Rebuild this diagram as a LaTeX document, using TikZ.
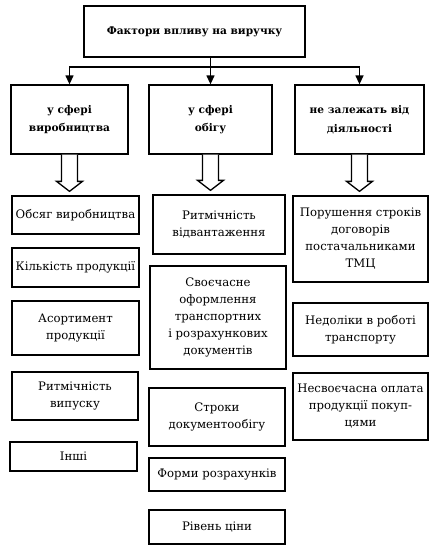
\documentclass[tikz,border=0pt]{standalone}
\usepackage{fontspec}
\setmainfont{DejaVu Serif}
\usetikzlibrary{arrows.meta,calc}
\tikzset{
  box/.style={draw, line width=1.3pt, rectangle, align=center, inner sep=1pt,
    font=\fontsize{11.7}{17}\selectfont},
  hbox/.style={box, font=\bfseries\fontsize{10.6}{18.5}\selectfont},
  conn/.style={line width=1.3pt},
  arr/.style={line width=1.3pt, -{Triangle[length=9pt,width=8pt]}},
  hollow/.style={line width=1.3pt, fill=white, line join=miter}
}
\newcommand{\hollowarrow}[2]{%
  \draw[hollow] let \p1=(#1.south), \p2=(#2.north) in
    (\x1-8pt,\y1) -- (\x1-8pt,\y2+14pt) -- (\x1-13pt,\y2+14pt) -- (\x1,\y2+4pt)
    -- (\x1+13pt,\y2+14pt) -- (\x1+8pt,\y2+14pt) -- (\x1+8pt,\y1);}
\begin{document}
\begin{tikzpicture}[x=1pt,y=-1pt]
\useasboundingbox (0,0) rectangle (435,549);
% top
\node[hbox, minimum width=221pt, minimum height=51pt] (top) at (194.5,31.5) {Фактори впливу на виручку};
% level 2
\node[hbox, minimum width=117pt, minimum height=69pt] (b1) at (69.5,119.5) {у сфері\\виробництва};
\node[hbox, minimum width=123pt, minimum height=69pt] (b2) at (210.5,119.5) {у сфері\\обігу};
\node[hbox, minimum width=129pt, minimum height=69pt] (b3) at (359.5,119.5) {не залежать від\\діяльності};
% connectors
\coordinate (j) at (210.5,67);
\draw[conn] (b2.north |- top.south) -- (j);
\draw[arr] (j) -| (b1.north);
\draw[arr] (j) -- (b2.north);
\draw[arr] (j) -| (b3.north);
% left column
\node[box, minimum width=127pt, minimum height=38pt] (l1) at (75.5,215) {Обсяг виробництва};
\node[box, minimum width=127pt, minimum height=39pt] (l2) at (75.5,267.5) {Кількість продукції};
\node[box, minimum width=127pt, minimum height=54pt] (l3) at (75.5,328) {Асортимент\\продукції};
\node[box, minimum width=126pt, minimum height=48pt] (l4) at (75,396) {Ритмічність\\випуску};
\node[box, minimum width=127pt, minimum height=29pt] (l5) at (73.5,456.5) {Інші};
% middle column
\node[box, minimum width=132pt, minimum height=59pt] (m1) at (219,224.5) {Ритмічність\\відвантаження};
\node[box, minimum width=136pt, minimum height=103pt] (m2) at (218,317.5) {Своєчасне\\оформлення\\транспортних\\і розрахункових\\документів};
\node[box, minimum width=136pt, minimum height=58pt] (m3) at (217,417) {Строки\\документообігу};
\node[box, minimum width=136pt, minimum height=33pt] (m4) at (217,474.5) {Форми розрахунків};
\node[box, minimum width=136pt, minimum height=34pt] (m5) at (217,527) {Рівень ціни};
% right column
\node[box, minimum width=135pt, minimum height=86pt] (r1) at (360.5,239) {Порушення строків\\договорів\\постачальниками\\ТМЦ};
\node[box, minimum width=135pt, minimum height=53pt] (r2) at (360.5,329.5) {Недоліки в роботі\\транспорту};
\node[box, minimum width=135pt, minimum height=67pt] (r3) at (360.5,406.5) {Несвоєчасна оплата\\продукції покуп-\\цями};
% hollow arrows
\hollowarrow{b1}{l1}
\hollowarrow{b2}{m1}
\hollowarrow{b3}{r1}
\end{tikzpicture}
\end{document}
